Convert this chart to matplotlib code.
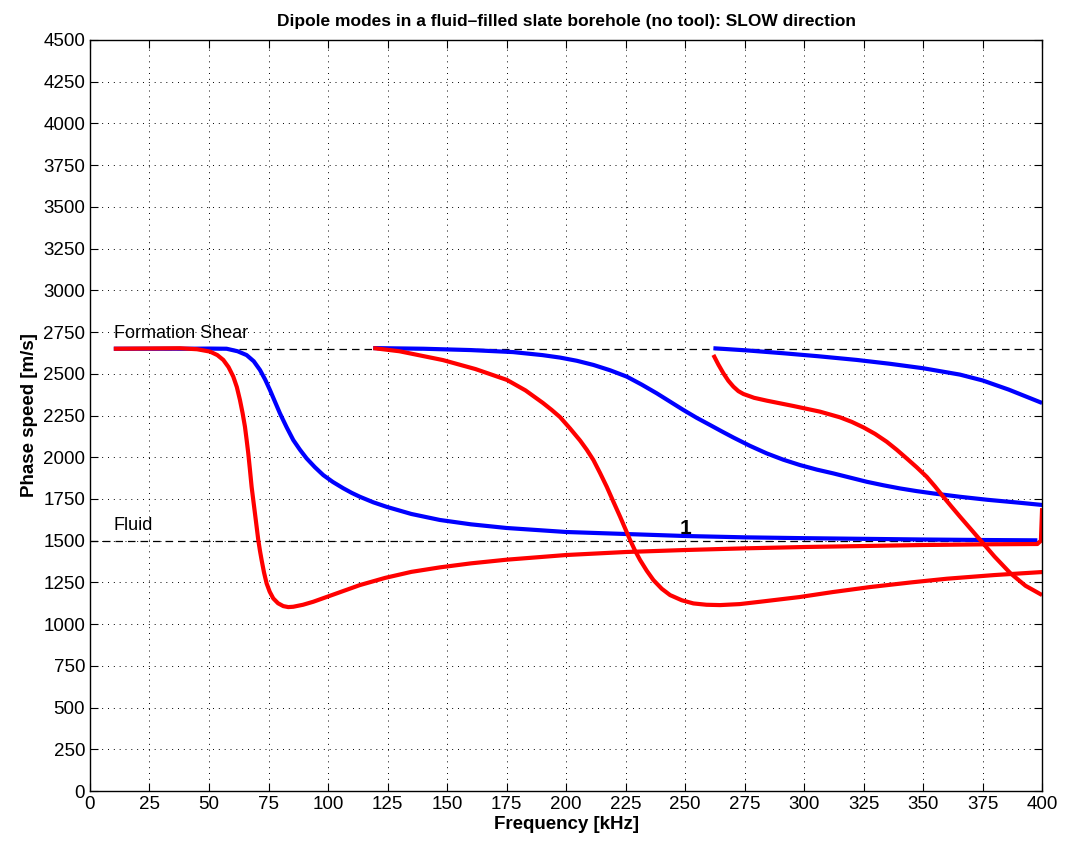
import numpy as np
import matplotlib.pyplot as plt

plt.rcParams["font.family"] = ["Liberation Sans", "DejaVu Sans"]

# shear and fluid reference speeds [m/s]
v_shear = 2650
v_fluid = 1500

# mode 1, blue branch
f_b1 = [10, 40, 50, 57.4, 62, 65.8, 68.8, 71.4, 73.6, 75.6, 77.7, 79.8, 82.6, 85.4, 88.2, 91, 94.5, 98,
        102, 106.4, 110, 113.4, 119, 124.8, 135, 147, 160, 175, 200, 225, 250, 275, 300, 325, 350, 375, 398]
v_b1 = [2650, 2650, 2651, 2650, 2635, 2612, 2575, 2523, 2465, 2403, 2333, 2263, 2180, 2103, 2045, 1993, 1940, 1893,
        1852, 1814, 1786, 1763, 1730, 1702, 1660, 1624, 1598, 1576, 1552, 1540, 1528, 1520, 1515, 1511, 1507, 1504, 1502]

# mode 1, red branch
f_r1 = [10, 37.8, 45, 50.4, 53.5, 56, 58.2, 60.2, 61.7, 63, 64.1, 65.1, 65.8, 66.5, 67.2, 67.9, 68.6, 69.3, 70, 70.7,
        71.4, 72.1, 73.1, 74.2, 75.5, 77, 79, 81.2, 83.3, 85.4, 89.5, 93.8, 98.5, 103.6, 113.4, 124, 135, 147, 160,
        175, 200, 225, 250, 275, 300, 325, 350, 375, 398, 399.5, 400]
v_r1 = [2650, 2653, 2647, 2633, 2612, 2583, 2540, 2483, 2420, 2343, 2265, 2183, 2105, 2023, 1925, 1823, 1743, 1664, 1584, 1504,
        1440, 1384, 1310, 1244, 1194, 1154, 1125, 1108, 1102, 1104, 1116, 1134, 1158, 1184, 1234, 1277, 1313, 1340, 1364,
        1386, 1414, 1432, 1444, 1454, 1462, 1468, 1474, 1478, 1480, 1500, 1695]

# mode 2, blue branch
f_b2 = [119, 140, 160, 177.7, 190, 197.5, 204.5, 211.5, 218.5, 225.5, 231.8, 238.1, 243.7, 249.3, 254.9, 260.5,
        265.4, 270.3, 277.3, 284.3, 291.3, 298.3, 305.3, 312.3, 319.3, 326.3, 333.3, 340.3, 347.3, 354.3,
        365.5, 377, 390, 400]
v_b2 = [2654, 2650, 2642, 2630, 2612, 2597, 2578, 2553, 2521, 2483, 2435, 2383, 2333, 2283, 2236, 2193,
        2155, 2118, 2068, 2023, 1985, 1953, 1926, 1903, 1878, 1853, 1832, 1813, 1797, 1783,
        1763, 1745, 1728, 1714]

# mode 2, red branch
f_r2 = [119, 130, 148.3, 162, 175.2, 183, 190.3, 194, 197.5, 201.7, 205.9, 208.7, 211.5, 214.3, 217.1, 219.9,
        222.7, 224.8, 226.9, 229, 231.1, 233.9, 236.7, 240.2, 243.7, 248.6, 253.5, 259, 264.7, 273, 281.5,
        298, 312, 327.7, 345, 360, 380, 400]
v_r2 = [2654, 2635, 2582, 2528, 2463, 2400, 2325, 2283, 2240, 2172, 2100, 2045, 1983, 1905, 1823, 1733,
        1644, 1574, 1504, 1440, 1384, 1320, 1264, 1212, 1174, 1143, 1124, 1116, 1114, 1120, 1134,
        1162, 1192, 1222, 1250, 1272, 1294, 1312]

# mode 3, blue branch
f_b3 = [261.9, 276, 291.3, 306, 322.1, 336, 350.1, 365.5, 375, 386, 400]
v_b3 = [2653, 2640, 2623, 2605, 2583, 2560, 2533, 2495, 2460, 2405, 2325]

# mode 3, red branch
f_r3 = [261.9, 264, 266.1, 268.2, 270.3, 272.4, 274.5, 279, 284.3, 295.5, 306.7, 315.1, 320, 324.9, 329.8,
        334.7, 338.9, 343.1, 347.3, 351.5, 355, 358.5, 362, 365.5, 370, 374, 380, 386.6, 393, 400]
v_r3 = [2613, 2555, 2503, 2458, 2423, 2396, 2379, 2356, 2339, 2307, 2273, 2239, 2212, 2179, 2140,
        2093, 2045, 1993, 1940, 1883, 1825, 1763, 1703, 1644, 1570, 1504, 1405, 1306, 1230, 1174]

x_ticks = np.arange(0, 401, 25)
y_ticks = np.arange(0, 4501, 250)

fig = plt.figure(figsize=(10.65, 8.49), dpi=100)
ax = fig.add_axes([0.0845, 0.0683, 0.894, 0.8846])

ax.plot([10, 400], [v_shear, v_shear], "k--", lw=0.9, dashes=(6, 4))
ax.plot([0, 400], [v_fluid, v_fluid], "k--", lw=0.9, dashes=(6, 4))

style = dict(lw=3.0, solid_joinstyle="round", solid_capstyle="butt")
ax.plot(f_b1, v_b1, color="#0000ff", **style)
ax.plot(f_r1, v_r1, color="#ff0000", **style)
ax.plot(f_b2, v_b2, color="#0000ff", **style)
ax.plot(f_r2, v_r2, color="#ff0000", **style)
ax.plot(f_b3, v_b3, color="#0000ff", **style)
ax.plot(f_r3, v_r3, color="#ff0000", **style)

ax.text(10, 2740, "Formation Shear", fontsize=13, va="center", ha="left")
ax.text(10, 1590, "Fluid", fontsize=13, va="center", ha="left")
ax.text(250, 1570, "1", fontsize=15, fontweight="bold", va="center", ha="center")

ax.set_xlim(0, 400)
ax.set_ylim(0, 4500)
ax.set_xticks(x_ticks)
ax.set_yticks(y_ticks)
ax.tick_params(direction="in", length=6, width=0.8, labelsize=13.5,
               top=True, right=True)
ax.grid(True, color="black", linestyle=(0, (1, 5)), linewidth=0.7)
for s in ax.spines.values():
    s.set_linewidth(1.0)

ax.set_xlabel("Frequency [kHz]", fontsize=13.5, fontweight="bold", labelpad=2)
ax.set_ylabel("Phase speed [m/s]", fontsize=13.5, fontweight="bold", labelpad=4)
ax.set_title("Dipole modes in a fluid\u2013filled slate borehole (no tool): SLOW direction",
             fontsize=12.5, fontweight="bold", pad=10)

fig.savefig("out.png", dpi=100)
